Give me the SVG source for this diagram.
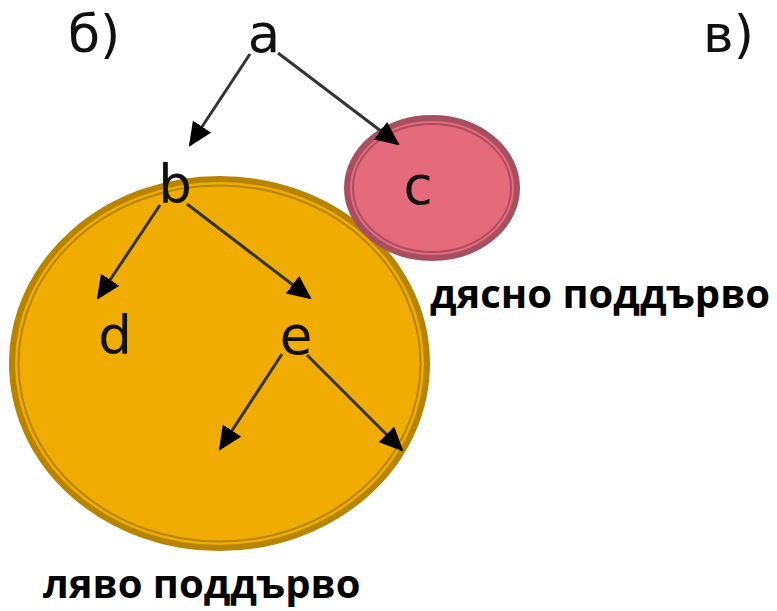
<svg xmlns="http://www.w3.org/2000/svg" width="777" height="611" viewBox="0 0 777 611">
<style>
.lbl{font-family:"DejaVu Sans","Noto Sans",sans-serif;font-size:53px;fill:#111;text-anchor:middle}
.hdr{font-family:"DejaVu Sans","Noto Sans",sans-serif;font-size:52px;fill:#111}
.cap{font-family:"Open Sans","Noto Sans",sans-serif;font-size:40px;font-weight:bold;fill:#000}
.edge{stroke:#333;stroke-width:3;fill:none;marker-end:url(#ah)}
</style>
<defs>
<marker id="ah" markerUnits="userSpaceOnUse" markerWidth="24" markerHeight="22" viewBox="0 0 24 22" refX="22" refY="11" orient="auto">
<path d="M0,0 L24,11 L0,22 Z" fill="#000"/>
</marker>
</defs>
<g id="left-subtree">
<ellipse cx="219.5" cy="363.5" rx="207.5" ry="184.5" fill="#F0AC00" stroke="#B88400" stroke-width="6"/>
<ellipse cx="219.5" cy="363.5" rx="201" ry="178" fill="none" stroke="#B88400" stroke-width="2"/>
</g>
<g id="right-subtree">
<ellipse cx="432" cy="188" rx="85" ry="70" fill="#E56A7C" stroke="#A84F5F" stroke-width="6"/>
<ellipse cx="432" cy="188" rx="79" ry="64" fill="none" stroke="#A84F5F" stroke-width="2"/>
</g>
<g id="connectors">
<line class="edge" x1="250" y1="54" x2="190" y2="145"/>
<line class="edge" x1="278" y1="53" x2="398" y2="144"/>
<line class="edge" x1="160" y1="205" x2="98" y2="298"/>
<line class="edge" x1="187" y1="204" x2="310" y2="298"/>
<line class="edge" x1="282" y1="354" x2="220" y2="449"/>
<line class="edge" x1="307" y1="355" x2="402" y2="450"/>
</g>
<g id="node-a"><text class="lbl" x="264" y="52">a</text></g>
<g id="node-b"><text class="lbl" x="175" y="203">b</text></g>
<g id="node-c"><text class="lbl" x="418" y="204">c</text></g>
<g id="node-d"><text class="lbl" x="115" y="354">d</text></g>
<g id="node-e"><text class="lbl" x="296" y="354">e</text></g>
<g id="headers">
<text class="hdr" x="68" y="52">б)</text>
<text class="hdr" x="703" y="52">в)</text>
</g>
<g id="captions">
<text class="cap" x="430" y="308">дясно поддърво</text>
<text class="cap" x="43" y="598">ляво поддърво</text>
</g>
</svg>
